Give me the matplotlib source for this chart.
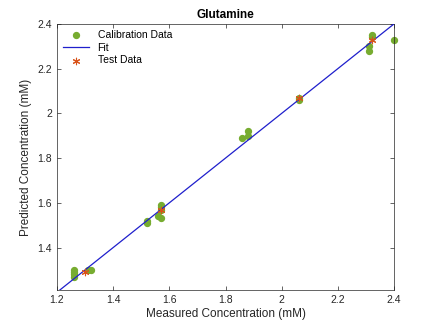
import matplotlib
matplotlib.use("Agg")
import matplotlib.pyplot as plt
import numpy as np

plt.rcParams['font.family'] = ['Liberation Sans', 'DejaVu Sans']

cal_x = [1.26, 1.26, 1.26, 1.26, 1.31, 1.32, 1.52, 1.52, 1.56, 1.57, 1.57, 1.57, 1.57,
         1.86, 1.88, 1.88, 2.06, 2.06, 2.31, 2.31, 2.32, 2.32, 2.40]
cal_y = [1.27, 1.28, 1.29, 1.30, 1.30, 1.30, 1.51, 1.52, 1.54, 1.53, 1.57, 1.58, 1.59,
         1.89, 1.90, 1.92, 2.06, 2.07, 2.28, 2.30, 2.34, 2.35, 2.33]
test_x = [1.30, 1.57, 2.06, 2.32]
test_y = [1.29, 1.57, 2.07, 2.33]
fit_x = [1.2, 2.4]
fit_slope = 1.0
fit_intercept = 0.0

xticks = [1.2, 1.4, 1.6, 1.8, 2.0, 2.2, 2.4]
xticklabels = ['1.2', '1.4', '1.6', '1.8', '2', '2.2', '2.4']
yticks = [1.4, 1.6, 1.8, 2.0, 2.2, 2.4]
yticklabels = ['1.4', '1.6', '1.8', '2', '2.2', '2.4']

fig = plt.figure(figsize=(4.33, 3.23), dpi=100)
ax = fig.add_axes([0.1316, 0.102, 0.7784, 0.824])

ax.scatter(cal_x, cal_y, s=18, color='#77AC30', label='Calibration Data', zorder=2,
           clip_on=False)
fx = np.array(fit_x)
ax.plot(fx, fit_slope * fx + fit_intercept, color='#1f1fcc', lw=0.9, label='Fit', zorder=3)
ax.scatter(test_x, test_y, s=22, marker=(6, 2, 0), color='#D95319', linewidths=0.8,
           label='Test Data', zorder=4, clip_on=False)

ax.set_xlim(1.2, 2.4)
ax.set_ylim(1.21, 2.4)
ax.set_xticks(xticks)
ax.set_xticklabels(xticklabels)
ax.set_yticks(yticks)
ax.set_yticklabels(yticklabels)
ax.tick_params(direction='in', length=3, labelsize=7.5, colors='#262626', top=True, right=True,
               width=0.5)
for sp in ax.spines.values():
    sp.set_color('#262626')
    sp.set_linewidth(0.5)

ax.set_title('Glutamine', fontsize=8.5, fontweight='bold', pad=4)
ax.set_xlabel('Measured Concentration (mM)', fontsize=8.5, color='#262626', labelpad=2)
ax.set_ylabel('Predicted Concentration (mM)', fontsize=8.5, color='#262626', labelpad=4)

leg = ax.legend(loc='upper left', frameon=False, fontsize=7.5, handlelength=2.5,
                borderaxespad=0.2, labelspacing=0.25)

fig.savefig('out.png', dpi=100)
